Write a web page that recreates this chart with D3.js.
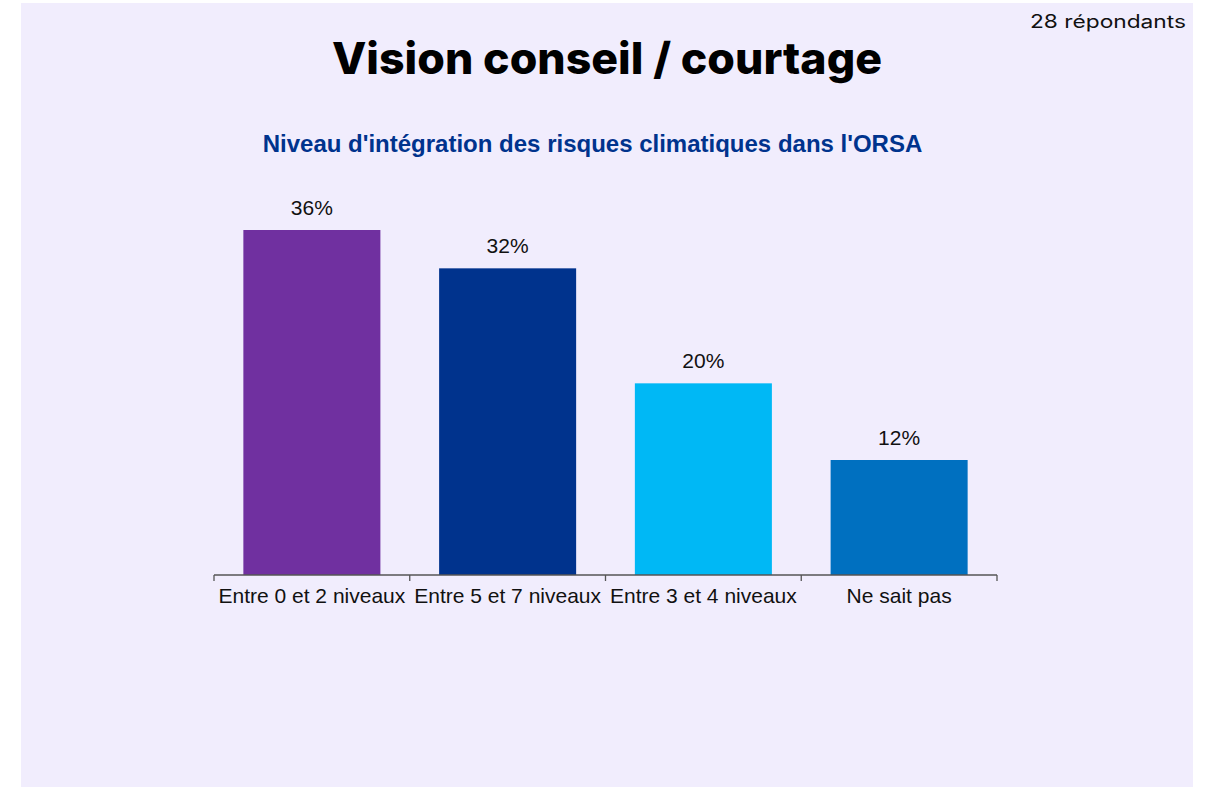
<!DOCTYPE html>
<html>
<head>
<meta charset="utf-8">
<script src="https://cdn.jsdelivr.net/npm/d3@7"></script>
<style>
  body { margin: 0; background: #fff; }
  svg { display: block; }
</style>
</head>
<body>
<svg width="1209" height="787"></svg>
<script>
const categories = ['Entre 0 et 2 niveaux', 'Entre 5 et 7 niveaux', 'Entre 3 et 4 niveaux', 'Ne sait pas']
const values = [36, 32, 20, 12]
const colors = ['#7030A0', '#00338D', '#00B8F5', '#0070C0']

const title = 'Vision conseil / courtage'
const subtitle = "Niveau d'intégration des risques climatiques dans l'ORSA"
const respondents = '28 répondants'

const width = 1209
const height = 787
const margin = { top: 230, right: 212, bottom: 212, left: 214 }

const svg = d3.select('svg')

// panel background
svg.append('rect')
  .attr('x', 21)
  .attr('y', 3)
  .attr('width', 1172)
  .attr('height', 784)
  .attr('fill', '#F1EDFD')

svg.append('text')
  .attr('x', 607)
  .attr('y', 74)
  .attr('text-anchor', 'middle')
  .attr('font-family', 'Inter, sans-serif')
  .attr('font-weight', 800)
  .attr('font-size', 44)
  .attr('textLength', 550)
  .attr('lengthAdjust', 'spacingAndGlyphs')
  .attr('fill', '#000')
  .text(title)

svg.append('text')
  .attr('x', 1186)
  .attr('y', 28)
  .attr('text-anchor', 'end')
  .attr('font-family', 'Inter, sans-serif')
  .attr('font-size', 18)
  .attr('textLength', 156)
  .attr('lengthAdjust', 'spacingAndGlyphs')
  .attr('fill', '#111')
  .text(respondents)

svg.append('text')
  .attr('x', 592.5)
  .attr('y', 152)
  .attr('text-anchor', 'middle')
  .attr('font-family', 'Liberation Sans, Arial, sans-serif')
  .attr('font-weight', 'bold')
  .attr('font-size', 24)
  .attr('fill', '#00338D')
  .text(subtitle)

// scales
const xScale = d3.scaleBand()
  .domain(categories)
  .range([margin.left, width - margin.right])
  .paddingInner(0.3)
  .paddingOuter(0.15)

const yScale = d3.scaleLinear()
  .domain([0, d3.max(values)])
  .range([height - margin.bottom, margin.top])

const data = categories.map((c, i) => ({ cat: c, value: values[i], color: colors[i] }))

svg.selectAll('rect.bar')
  .data(data)
  .enter().append('rect')
  .attr('class', 'bar')
  .attr('x', d => xScale(d.cat))
  .attr('y', d => yScale(d.value))
  .attr('width', xScale.bandwidth())
  .attr('height', d => yScale(0) - yScale(d.value))
  .attr('fill', d => d.color)

svg.selectAll('text.val')
  .data(data)
  .enter().append('text')
  .attr('class', 'val')
  .attr('x', d => xScale(d.cat) + xScale.bandwidth() / 2)
  .attr('y', d => yScale(d.value) - 15)
  .attr('text-anchor', 'middle')
  .attr('font-family', 'Liberation Sans, Arial, sans-serif')
  .attr('font-size', 21)
  .attr('fill', '#111')
  .text(d => d.value + '%')

// x axis: labels centred, ticks on band boundaries
const xAxis = d3.axisBottom(xScale)
  .tickSize(0)
  .tickPadding(13)

const axisG = svg.append('g')
  .attr('transform', `translate(0,${yScale(0)})`)
  .call(xAxis)

axisG.select('.domain').remove()
axisG.selectAll('text')
  .attr('font-family', 'Liberation Sans, Arial, sans-serif')
  .attr('font-size', 21)
  .attr('fill', '#111')

const step = xScale.step()
const edges = d3.range(categories.length + 1).map(i => margin.left + i * step)

axisG.append('line')
  .attr('x1', margin.left)
  .attr('x2', width - margin.right)
  .attr('stroke', '#555')
  .attr('stroke-width', 1.3)

axisG.selectAll('line.edge')
  .data(edges)
  .enter().append('line')
  .attr('class', 'edge')
  .attr('x1', d => d)
  .attr('x2', d => d)
  .attr('y1', 0)
  .attr('y2', 6)
  .attr('stroke', '#555')
  .attr('stroke-width', 1.3)
</script>
</body>
</html>
